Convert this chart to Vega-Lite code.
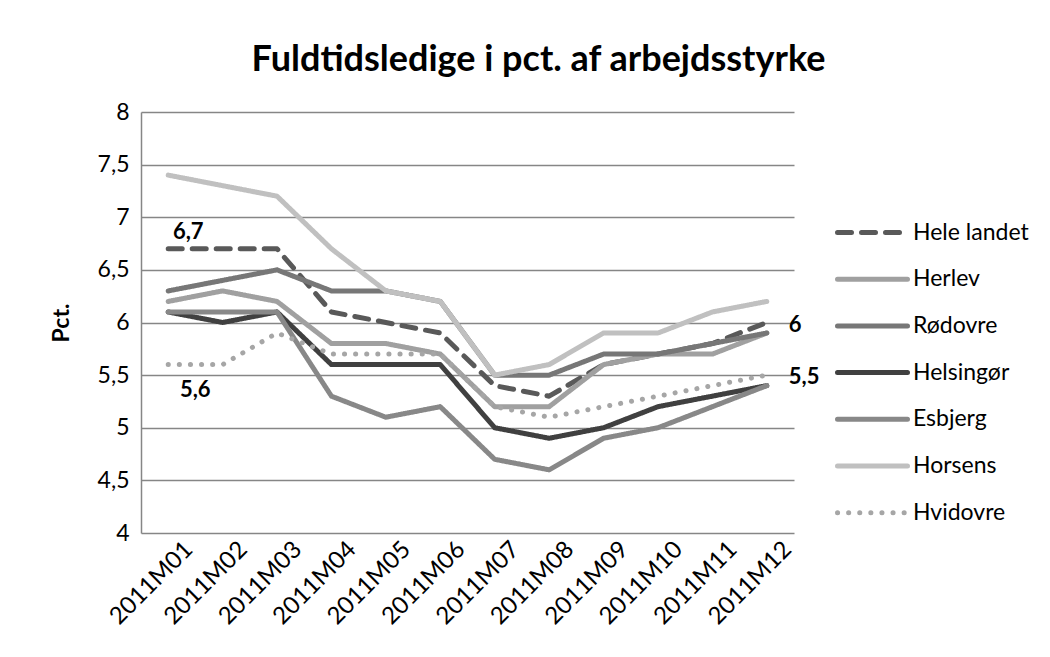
{
  "$schema": "https://vega.github.io/schema/vega-lite/v6.json",
  "width": 653,
  "height": 421,
  "autosize": {"type": "none"},
  "padding": {"left": 141, "top": 112, "right": 256, "bottom": 124},
  "background": "white",
  "config": {
    "locale": {"number": {"decimal": ",", "thousands": ".", "grouping": [3], "currency": ["", " kr."]}},
    "font": "Lato",
    "view": {"stroke": null}
  },
  "title": {
    "text": "Fuldtidsledige i pct. af arbejdsstyrke",
    "fontSize": 36,
    "font": "Lato",
    "fontWeight": "bold",
    "color": "black",
    "anchor": "middle",
    "dx": 71,
    "offset": -6,
    "baseline": "alphabetic"
  },
  "datasets": {
    "d": [
      {"series": "Hele landet", "month": "2011M01", "value": 6.7},
      {"series": "Hele landet", "month": "2011M02", "value": 6.7},
      {"series": "Hele landet", "month": "2011M03", "value": 6.7},
      {"series": "Hele landet", "month": "2011M04", "value": 6.1},
      {"series": "Hele landet", "month": "2011M05", "value": 6.0},
      {"series": "Hele landet", "month": "2011M06", "value": 5.9},
      {"series": "Hele landet", "month": "2011M07", "value": 5.4},
      {"series": "Hele landet", "month": "2011M08", "value": 5.3},
      {"series": "Hele landet", "month": "2011M09", "value": 5.6},
      {"series": "Hele landet", "month": "2011M10", "value": 5.7},
      {"series": "Hele landet", "month": "2011M11", "value": 5.8},
      {"series": "Hele landet", "month": "2011M12", "value": 6.0},
      {"series": "Herlev", "month": "2011M01", "value": 6.2},
      {"series": "Herlev", "month": "2011M02", "value": 6.3},
      {"series": "Herlev", "month": "2011M03", "value": 6.2},
      {"series": "Herlev", "month": "2011M04", "value": 5.8},
      {"series": "Herlev", "month": "2011M05", "value": 5.8},
      {"series": "Herlev", "month": "2011M06", "value": 5.7},
      {"series": "Herlev", "month": "2011M07", "value": 5.2},
      {"series": "Herlev", "month": "2011M08", "value": 5.2},
      {"series": "Herlev", "month": "2011M09", "value": 5.6},
      {"series": "Herlev", "month": "2011M10", "value": 5.7},
      {"series": "Herlev", "month": "2011M11", "value": 5.7},
      {"series": "Herlev", "month": "2011M12", "value": 5.9},
      {"series": "Rødovre", "month": "2011M01", "value": 6.3},
      {"series": "Rødovre", "month": "2011M02", "value": 6.4},
      {"series": "Rødovre", "month": "2011M03", "value": 6.5},
      {"series": "Rødovre", "month": "2011M04", "value": 6.3},
      {"series": "Rødovre", "month": "2011M05", "value": 6.3},
      {"series": "Rødovre", "month": "2011M06", "value": 6.2},
      {"series": "Rødovre", "month": "2011M07", "value": 5.5},
      {"series": "Rødovre", "month": "2011M08", "value": 5.5},
      {"series": "Rødovre", "month": "2011M09", "value": 5.7},
      {"series": "Rødovre", "month": "2011M10", "value": 5.7},
      {"series": "Rødovre", "month": "2011M11", "value": 5.8},
      {"series": "Rødovre", "month": "2011M12", "value": 5.9},
      {"series": "Helsingør", "month": "2011M01", "value": 6.1},
      {"series": "Helsingør", "month": "2011M02", "value": 6.0},
      {"series": "Helsingør", "month": "2011M03", "value": 6.1},
      {"series": "Helsingør", "month": "2011M04", "value": 5.6},
      {"series": "Helsingør", "month": "2011M05", "value": 5.6},
      {"series": "Helsingør", "month": "2011M06", "value": 5.6},
      {"series": "Helsingør", "month": "2011M07", "value": 5.0},
      {"series": "Helsingør", "month": "2011M08", "value": 4.9},
      {"series": "Helsingør", "month": "2011M09", "value": 5.0},
      {"series": "Helsingør", "month": "2011M10", "value": 5.2},
      {"series": "Helsingør", "month": "2011M11", "value": 5.3},
      {"series": "Helsingør", "month": "2011M12", "value": 5.4},
      {"series": "Esbjerg", "month": "2011M01", "value": 6.1},
      {"series": "Esbjerg", "month": "2011M02", "value": 6.1},
      {"series": "Esbjerg", "month": "2011M03", "value": 6.1},
      {"series": "Esbjerg", "month": "2011M04", "value": 5.3},
      {"series": "Esbjerg", "month": "2011M05", "value": 5.1},
      {"series": "Esbjerg", "month": "2011M06", "value": 5.2},
      {"series": "Esbjerg", "month": "2011M07", "value": 4.7},
      {"series": "Esbjerg", "month": "2011M08", "value": 4.6},
      {"series": "Esbjerg", "month": "2011M09", "value": 4.9},
      {"series": "Esbjerg", "month": "2011M10", "value": 5.0},
      {"series": "Esbjerg", "month": "2011M11", "value": 5.2},
      {"series": "Esbjerg", "month": "2011M12", "value": 5.4},
      {"series": "Horsens", "month": "2011M01", "value": 7.4},
      {"series": "Horsens", "month": "2011M02", "value": 7.3},
      {"series": "Horsens", "month": "2011M03", "value": 7.2},
      {"series": "Horsens", "month": "2011M04", "value": 6.7},
      {"series": "Horsens", "month": "2011M05", "value": 6.3},
      {"series": "Horsens", "month": "2011M06", "value": 6.2},
      {"series": "Horsens", "month": "2011M07", "value": 5.5},
      {"series": "Horsens", "month": "2011M08", "value": 5.6},
      {"series": "Horsens", "month": "2011M09", "value": 5.9},
      {"series": "Horsens", "month": "2011M10", "value": 5.9},
      {"series": "Horsens", "month": "2011M11", "value": 6.1},
      {"series": "Horsens", "month": "2011M12", "value": 6.2},
      {"series": "Hvidovre", "month": "2011M01", "value": 5.6},
      {"series": "Hvidovre", "month": "2011M02", "value": 5.6},
      {"series": "Hvidovre", "month": "2011M03", "value": 5.9},
      {"series": "Hvidovre", "month": "2011M04", "value": 5.7},
      {"series": "Hvidovre", "month": "2011M05", "value": 5.7},
      {"series": "Hvidovre", "month": "2011M06", "value": 5.7},
      {"series": "Hvidovre", "month": "2011M07", "value": 5.2},
      {"series": "Hvidovre", "month": "2011M08", "value": 5.1},
      {"series": "Hvidovre", "month": "2011M09", "value": 5.2},
      {"series": "Hvidovre", "month": "2011M10", "value": 5.3},
      {"series": "Hvidovre", "month": "2011M11", "value": 5.4},
      {"series": "Hvidovre", "month": "2011M12", "value": 5.5}
    ]
  },
  "data": {"name": "d"},
  "encoding": {
    "x": {
      "field": "month",
      "type": "ordinal",
      "title": null,
      "axis": {
        "labelAngle": -45,
        "labelFontSize": 24,
        "labelFont": "Lato",
        "labelColor": "black",
        "labelOffset": 12,
        "ticks": false,
        "domain": false,
        "grid": false,
        "labelPadding": 4
      }
    },
    "y": {
      "field": "value",
      "type": "quantitative",
      "scale": {"domain": [4, 8], "nice": false, "zero": false},
      "title": "Pct.",
      "axis": {
        "values": [4, 4.5, 5, 5.5, 6, 6.5, 7, 7.5, 8],
        "format": ".1~f",
        "labelFontSize": 23,
        "labelFont": "Lato",
        "labelColor": "black",
        "labelPadding": 12,
        "ticks": false,
        "domain": true,
        "domainColor": "#868686",
        "domainWidth": 1.5,
        "grid": true,
        "gridColor": "#868686",
        "gridWidth": 1.5,
        "titleFontSize": 23,
        "titleFont": "Lato",
        "titleFontWeight": "bold",
        "titleColor": "black",
        "titlePadding": 24
      }
    }
  },
  "layer": [
    {
      "mark": {"type": "line", "strokeWidth": 5, "strokeCap": "round", "strokeJoin": "round"},
      "encoding": {
        "color": {
          "field": "series",
          "type": "nominal",
          "scale": {
            "domain": ["Hele landet", "Herlev", "Rødovre", "Helsingør", "Esbjerg", "Horsens", "Hvidovre"],
            "range": ["#595959", "#a0a0a0", "#777777", "#404040", "#888888", "#c0c0c0", "#a6a6a6"]
          },
          "legend": {
            "orient": "none",
            "legendX": 719,
            "legendY": 108,
            "title": null,
            "padding": 0,
            "symbolType": "M-3.5,0H3.5",
            "symbolSize": 400,
            "symbolStrokeWidth": 5,
            "labelFontSize": 23,
            "labelFont": "Lato",
            "labelColor": "black",
            "labelOffset": 28,
            "rowPadding": 21.7,
            "encode": {"symbols": {"update": {"strokeCap": {"value": "round"}}}}
          }
        },
        "strokeDash": {
          "field": "series",
          "type": "nominal",
          "scale": {
            "domain": ["Hele landet", "Herlev", "Rødovre", "Helsingør", "Esbjerg", "Horsens", "Hvidovre"],
            "range": [[14, 10], [1, 0], [1, 0], [1, 0], [1, 0], [1, 0], [0.1, 11]]
          },
          "legend": {
            "orient": "none",
            "legendX": 719,
            "legendY": 108,
            "title": null,
            "padding": 0,
            "symbolType": "M-3.5,0H3.5",
            "symbolSize": 400,
            "symbolStrokeWidth": 5,
            "labelFontSize": 23,
            "labelFont": "Lato",
            "labelColor": "black",
            "labelOffset": 28,
            "rowPadding": 21.7,
            "encode": {"symbols": {"update": {"strokeCap": {"value": "round"}}}}
          }
        }
      }
    },
    {
      "transform": [{"filter": "datum.series == 'Hele landet' && datum.month == '2011M01'"}],
      "mark": {"type": "text", "dx": 20, "dy": -17, "fontSize": 22, "fontWeight": "bold", "font": "Lato", "color": "black"},
      "encoding": {"text": {"field": "value", "type": "quantitative", "format": ".1~f"}}
    },
    {
      "transform": [{"filter": "datum.series == 'Hvidovre' && datum.month == '2011M01'"}],
      "mark": {"type": "text", "dx": 27, "dy": 25, "fontSize": 22, "fontWeight": "bold", "font": "Lato", "color": "black"},
      "encoding": {"text": {"field": "value", "type": "quantitative", "format": ".1~f"}}
    },
    {
      "transform": [{"filter": "(datum.series == 'Hele landet' || datum.series == 'Hvidovre') && datum.month == '2011M12'"}],
      "mark": {"type": "text", "dx": 22, "dy": 2, "align": "left", "fontSize": 22, "fontWeight": "bold", "font": "Lato", "color": "black"},
      "encoding": {"text": {"field": "value", "type": "quantitative", "format": ".1~f"}}
    }
  ]
}
